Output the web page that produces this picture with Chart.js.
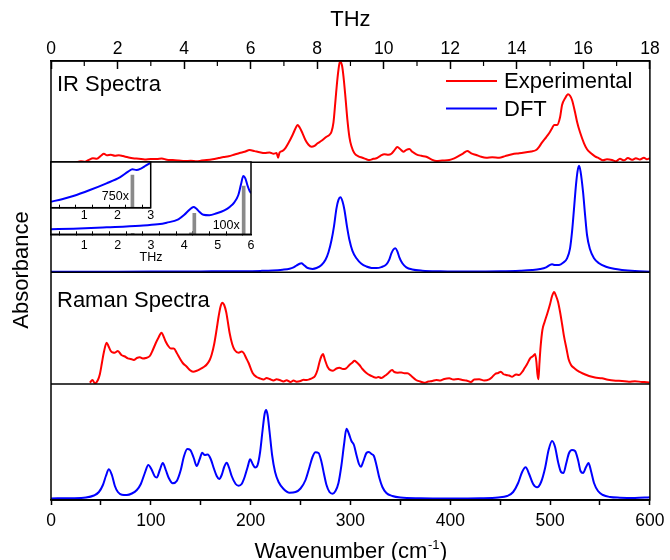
<!DOCTYPE html>
<html>
<head>
<meta charset="utf-8">
<title>IR and Raman spectra</title>
<script src="https://cdn.jsdelivr.net/npm/chart.js@4.4.0/dist/chart.umd.min.js"></script>
<style>
    html, body { margin: 0; padding: 0; background: #fff; }
    #wrap { position: relative; width: 670px; height: 560px; }
    #wrap > div { position: absolute; }
</style>
</head>
<body>
<div id="wrap">
    <div style="left:0;top:0;width:670px;height:560px"><canvas id="mainChart"></canvas></div>
    <div style="left:0;top:150px;width:262px;height:120px"><canvas id="inset100"></canvas></div>
    <div style="left:0;top:150px;width:162px;height:80px"><canvas id="inset750"></canvas></div>
</div>
<script>
// Spectra: [wavenumber (cm-1), absorbance (a.u.)]
const irExperimental = [
    [25,0],[30,1],[34,0.5],[38,2.5],[42,4],[46,3.5],[50,6.5],[53,8.5],[56,7],[60,7.5],[64,6.5],[68,7],
    [72,6.2],[77,5],[82,4],[88,3.5],[94,2.8],[100,3.4],[106,3.2],[111,3.8],[116,2.6],[122,2.3],[128,1.8],
    [134,1.2],[140,1.6],[146,1.0],[151,1.8],[156,2.2],[162,3],[168,4.2],[173,5.2],[178,6],[184,7.8],
    [189,9.3],[194,10.5],[199,12.3],[204,11.2],[209,10],[214,9.2],[219,9.8],[223,8.6],[226,9.2],[227.5,4.6],
    [229,9.8],[232,11.5],[235,14.5],[238,19.5],[242,27.3],[245,34],[247,37.3],[249,35],[252,29],[255,22],
    [258,17.5],[261,15.6],[264,16.5],[267,19],[271,21.5],[276,25.6],[279,27.5],[281,30.6],[283,40],[285,62],
    [287,84],[289,99],[290,100.5],[291.5,97],[293,86],[295,65],[297,42],[299,25],[301,16],[304,9],[308,6],
    [312,4.6],[316,3],[319,2.3],[323,3.5],[326,4],[330,6.5],[334,8],[338,7.5],[341,8.5],[344,12],[347,15.3],
    [350,13],[353,10.6],[356,12.5],[359,13.3],[362,10.5],[366,8],[371,6.5],[376,5.6],[381,3],[386,1.3],
    [392,1.8],[399,2.3],[404,4],[409,6.6],[413,9],[417,11.3],[421,9],[426,7.3],[431,5.5],[436,4.6],[442,5],
    [449,4.6],[455,6.2],[462,8],[469,9],[476,10],[481,10.8],[486,12.3],[489,15.5],[492,20],[496,25],[499,29],
    [502,34],[504,37.3],[507,37.3],[510,45],[512,57.3],[515,64],[518,68],[520,66.5],[522,62.3],[525,50],
    [527,40.6],[530,30],[534,19],[537,13],[541,9],[545,6],[549,4],[553,2],[557,3],[562,2.3],[566,1],[570,3.5],
    [574,2],[578,4.2],[582,2.5],[586,4],[590,2.8],[594,4.5],[597,3],[600,4]
];
const irDft = [
    [0,0.5],[50,0.6],[100,0.7],[150,0.9],[189,1.1],[210,1.4],[222,1.8],[232,2.6],[239,3.6],[243,5],[246,6.8],
    [249,8.6],[251,9],[253,7.6],[256,5],[259,3.8],[262,3.4],[266,4.3],[271,7.3],[275,12.5],[278,20],[281,32],
    [283.5,46],[286,64],[288,72.5],[290,75],[292,71],[294,62.3],[296.5,46],[299,32.3],[302,21.5],[306,14],
    [311,8.5],[316,5.8],[321,4.4],[326,4.2],[331,5.2],[336,8],[339,13],[341,19],[343,22.8],[345,24],[347,21],
    [349,15],[352,9],[356,5],[362,2.8],[372,1.6],[390,1],[422,0.7],[450,1],[470,1.6],[482,2.3],[490,3.3],
    [496,5],[500,7.5],[502,8],[505,7.2],[509,7.3],[513,9.5],[517,14],[520,24],[522,40.6],[524,64],[526,88],
    [527.5,101],[529,106.6],[530.5,101],[533,80.6],[535,58],[537,37.3],[540,23],[544,14],[549,9],[556,5.6],
    [564,3.5],[572,2.3],[585,1.2],[600,0.6]
];
const ramanExperimental = [
    [39,1.3],[41.5,4],[44,0.7],[47,4],[49,10],[51,21],[53,32],[55.7,41.3],[57.5,38],[59.7,33.3],[62,31.5],
    [64,31.3],[67,33],[70.5,29],[74,27.5],[77,25.7],[80,25],[83,24],[86,26],[89,26.7],[92,25.5],[95,26],
    [99,28],[102,34],[105,41],[107.5,46],[110.7,51.3],[113,47],[115,42.3],[117.5,38],[120,35.5],[123,35.5],
    [126,31],[129,25.7],[132,21],[136,17.3],[139,14],[142.3,12.3],[146,13.2],[149,14.7],[153,17],[156,19.5],
    [159,24],[161,29.5],[163.5,40],[166,55],[168,68],[170,78],[171.7,81.3],[173.5,79],[175.5,72],[177.5,60],
    [179,50.7],[181.5,40],[184,34],[188,31.3],[191,32.5],[193,31],[195.5,26],[198,21],[202,11],[206,7],
    [209,5.7],[213,4.5],[216,6],[219,5],[223,3.6],[226,4.8],[229,4],[233,2.5],[236,3.8],[240,2],[243,3.5],
    [246,2.3],[250,3],[253,4.2],[256,4],[259,4.7],[262,6],[264.5,8],[267,14],[269,22],[271,28],[272.5,30],
    [274.5,24],[277,17.3],[280,13.8],[282.5,13.3],[286,15.5],[289,16.3],[292.5,15],[295.7,15.7],[299,19],
    [302,21.5],[304,23.3],[306.5,21.5],[309,19],[312,15],[315.7,11.3],[320,8.5],[325.7,6.3],[328,7],[331,6],
    [335,8.5],[338,11],[341.7,14],[344,12],[347.3,11.3],[351,11.5],[354,10.7],[357,10.7],[361,8],[365.7,4],
    [370,2.5],[374,1.3],[378,2.5],[382,3],[386,4],[390,3.5],[394,5],[399,5.7],[403,4.5],[408,5],[412,4],
    [416,3.5],[420.7,2],[424,4.5],[429,4.7],[434,3.5],[439,4.7],[442,7],[445,10],[448,11],[450.7,12.3],
    [453,10],[456,9],[459,8.5],[462,7.3],[466,9.5],[469,9],[472,12],[474.5,16],[477,20],[480,25.7],[483,28],
    [485,30],[486.3,22],[487.3,10],[488.3,4.7],[489.3,20],[490.5,37.3],[492.3,54],[494.5,62],[497.3,70.7],
    [500,80],[502,88],[504,92],[506,88],[508,82],[510,72],[512,60],[514,47.3],[516.5,35],[518.5,25],[521,19],
    [524,16],[529,12.3],[534,10],[539,8],[545,6.5],[552,5.7],[558,4.2],[565.7,3.3],[572,3],[579,2.3],
    [585,2.8],[592,2],[597,1.8],[600,1.3]
];
const ramanDft = [
    [0,1.6],[20,1.8],[35,2.5],[43,4.5],[48,8],[52,15],[55,24],[58,30.7],[61,25],[64,14],[67,8],[71,5.3],
    [76,5],[81,6.5],[86,10],[90,16],[94,27],[97.5,35],[100.5,31],[104,23.5],[106,22.5],[109,30],[112,37],
    [115,30],[118,22],[122,16.7],[126,19],[130,30],[133,43],[136.5,51],[139.5,50],[143,42],[146,34],[149,41],
    [151.5,47.3],[154,45],[157,45.5],[160,41],[163,32],[166,24],[168.5,21],[171,25],[173.5,33],[176,37.3],
    [178.5,32],[181,24],[185,16],[188,14.3],[191,16],[194,23],[197,33],[199.5,40.7],[202,36],[204.5,32.5],
    [207,35],[209.5,48],[212,70],[214,86],[215.5,90],[217,85],[219,68],[221.5,45],[224.5,28],[228,18],
    [233,11],[239,7.3],[245,8],[250,11.5],[255,20],[259,33],[262,43],[265,47.7],[268,47],[271,38],[273.5,26],
    [276,15],[279,8],[282,6.3],[285,9],[288,17],[291,35],[293.5,55],[296,71.3],[298.5,66],[301,59],[303.5,55],
    [306,45],[308.5,36],[310.5,33.3],[313,39],[316,47],[318.5,48],[321,46],[323.5,44],[326,35],[329,22],
    [332,13],[336,7],[342,4],[350,2.5],[370,1.8],[400,1.6],[430,1.8],[448,2.5],[457,4],[463,8],[468,17],
    [472,28],[475.5,32.7],[479,26],[483,16],[487,12.7],[491,18],[495,32],[498.5,50],[502,59],[505,53],
    [508,38],[511,28],[513.5,27],[516,36],[519,47],[522,50],[525,49],[528,40],[530.5,29],[533,27],[536,33],
    [538.5,37],[541,29],[544,17],[548,9],[553,5],[560,3],[570,2.3],[585,2],[600,2.8]
];

// Low frequency DFT insets: [THz, magnified absorbance]
const inset750x = [[0,6],[0.33,8.5],[0.67,11.7],[1.17,17.7],[1.67,24.4],[2.07,30.4],[2.32,36],[2.45,38.4],
    [2.57,37.7],[2.72,39.4],[2.85,42],[3.0,45]];
const inset750xModes = [[2.45,32.7]];
const inset100x = [[0,5],[0.67,5.6],[1.67,7],[2.67,8.6],[3.2,10],[3.47,11.6],[3.82,15],[4.0,19.5],[4.12,23.5],
    [4.22,26.5],[4.28,27.3],[4.35,26],[4.45,22.5],[4.57,19.5],[4.75,19],[4.97,21],[5.2,24],[5.37,27.6],
    [5.5,32],[5.62,39.3],[5.7,50],[5.77,58.3],[5.83,56],[5.89,49.3],[5.95,44],[6.0,41]];
const inset100xModes = [[2.45,1],[4.2,1.5],[4.3,21],[5.78,48.3]];

// axis ranges (a.u.) of the four stacked panels, top to bottom
const panelIds = ['yIr', 'yIrDft', 'yRaman', 'yRamanDft'];
const panelRanges = [101.3, 110, 111.7, 116];
const legendItems = ['Experimental', 'DFT'];

const FONT = 'Arial, "Liberation Sans", sans-serif';
const RED = '#ff0000';
const BLUE = '#0000ff';
Chart.defaults.font.family = FONT;
Chart.defaults.color = '#000';
Chart.defaults.animation = false;

const toXY = pairs => pairs.map(p => ({ x: p[0], y: p[1] }));

function spectrum(pairs, axis, color) {
    return {
        data: toXY(pairs),
        yAxisID: axis,
        xAxisID: 'x',
        borderColor: color,
        borderWidth: 2,
        pointRadius: 0,
        cubicInterpolationMode: 'monotone'
    };
}

function panelAxis(i) {
    return {
        type: 'linear',
        position: 'left',
        stack: 'panels',
        stackWeight: panelRanges[i],
        weight: 4 - i,
        min: 0,
        max: panelRanges[i],
        ticks: { display: false },
        grid: { display: false },
        border: { display: false },
        afterFit: s => { s.width = 51; }
    };
}

// frame, panel dividers, minor THz ticks, labels and legend
const decorations = {
    id: 'decorations',
    afterDatasetsDraw(chart) {
        const { ctx, chartArea: a, scales } = chart;
        ctx.save();
        ctx.strokeStyle = '#000';
        ctx.lineWidth = 1.5;
        panelIds.forEach(id => {
            const y = scales[id].bottom;
            ctx.beginPath();
            ctx.moveTo(a.left, y);
            ctx.lineTo(a.right, y);
            ctx.stroke();
        });
        ctx.strokeRect(a.left, a.top, a.right - a.left, a.bottom - a.top);

        const thz = scales.xThz;
        ctx.lineWidth = 1.2;
        for (let t = 1; t < 18; t += 2) {
            const px = thz.getPixelForValue(t);
            ctx.beginPath();
            ctx.moveTo(px, a.top);
            ctx.lineTo(px, a.top + 5);
            ctx.stroke();
        }

        ctx.fillStyle = '#000';
        ctx.font = '22px ' + FONT;
        ctx.textAlign = 'left';
        ctx.textBaseline = 'middle';
        ctx.fillText('IR Spectra', a.left + 6, scales.yIr.top + 24);
        ctx.fillText('Raman Spectra', a.left + 6, scales.yRaman.top + 29);

        // legend
        const colors = [RED, BLUE];
        legendItems.forEach((name, i) => {
            const y = 81 + i * 27.5;
            ctx.strokeStyle = colors[i];
            ctx.lineWidth = 2;
            ctx.beginPath();
            ctx.moveTo(446, y);
            ctx.lineTo(497, y);
            ctx.stroke();
            ctx.fillText(name, 504, y + 1);
        });

        // y title
        ctx.save();
        ctx.translate(22, 270);
        ctx.rotate(-Math.PI / 2);
        ctx.textAlign = 'center';
        ctx.fillText('Absorbance', 0, 0);
        ctx.restore();

        // bottom title with superscript
        const cx = (a.left + a.right) / 2;
        const part1 = 'Wavenumber (cm', sup = '-1', part2 = ')';
        ctx.textBaseline = 'alphabetic';
        ctx.font = '22px ' + FONT;
        const w1 = ctx.measureText(part1).width;
        const w3 = ctx.measureText(part2).width;
        ctx.font = '13px ' + FONT;
        const w2 = ctx.measureText(sup).width;
        const x0 = cx - (w1 + w2 + w3) / 2;
        ctx.font = '22px ' + FONT;
        ctx.fillText(part1, x0, 558);
        ctx.fillText(part2, x0 + w1 + w2 + 1, 558);
        ctx.font = '13px ' + FONT;
        ctx.fillText(sup, x0 + w1 + 0.5, 549);
        ctx.restore();
    }
};

new Chart(document.getElementById('mainChart'), {
    type: 'line',
    data: {
        datasets: [
            spectrum(irExperimental, 'yIr', RED),
            spectrum(irDft, 'yIrDft', BLUE),
            spectrum(ramanExperimental, 'yRaman', RED),
            spectrum(ramanDft, 'yRamanDft', BLUE)
        ]
    },
    options: {
        responsive: true,
        maintainAspectRatio: false,
        layout: { padding: { left: 0, right: 18, top: 0, bottom: 0 } },
        plugins: { legend: { display: false }, tooltip: { enabled: false } },
        scales: {
            x: {
                type: 'linear',
                position: 'bottom',
                min: 0,
                max: 600,
                offset: false,
                ticks: {
                    stepSize: 50,
                    autoSkip: false,
                    maxRotation: 0,
                    padding: 5.5,
                    font: { size: 17.5 },
                    callback: v => (v % 100 === 0 ? v : '')
                },
                grid: { drawOnChartArea: false, tickLength: 5, tickColor: '#000', tickWidth: 1.5 },
                border: { color: '#000', width: 1.5 },
                afterFit: s => { s.height = 60; }
            },
            xThz: {
                type: 'linear',
                position: 'top',
                min: 0,
                max: 18,
                offset: false,
                ticks: { stepSize: 2, autoSkip: false, maxRotation: 0, padding: 9.7, font: { size: 17.5 } },
                grid: { drawOnChartArea: false, tickLength: -8, tickColor: '#000', tickWidth: 1.5 },
                border: { color: '#000', width: 1.5 },
                title: { display: true, text: 'THz', font: { size: 22 }, padding: { top: 7, bottom: 0 } },
                afterFit: s => { s.height = 61; }
            },
            yIr: panelAxis(0),
            yIrDft: panelAxis(1),
            yRaman: panelAxis(2),
            yRamanDft: panelAxis(3)
        }
    },
    plugins: [decorations]
});

// inset boxes: white background, frame and magnification label
const insetFrame = {
    id: 'insetFrame',
    beforeDraw(chart) {
        const { ctx, chartArea: a } = chart;
        ctx.save();
        ctx.fillStyle = '#fff';
        ctx.fillRect(a.left, a.top, a.right - a.left, a.bottom - a.top);
        ctx.restore();
    },
    afterDatasetsDraw(chart, args, opts) {
        const { ctx, chartArea: a, scales } = chart;
        ctx.save();
        ctx.strokeStyle = '#000';
        ctx.lineWidth = 1.5;
        ctx.strokeRect(a.left, a.top, a.right - a.left, a.bottom - a.top);
        ctx.fillStyle = '#000';
        ctx.font = '12.5px ' + FONT;
        ctx.textBaseline = 'middle';
        ctx.fillText(opts.text, scales.x.getPixelForValue(opts.at[0]), scales.y.getPixelForValue(opts.at[1]));
        ctx.restore();
    }
};

function insetChart(canvasId, curve, modes, maxThz, maxY, cfg) {
    return new Chart(document.getElementById(canvasId), {
        type: 'line',
        data: {
            datasets: [
                {
                    data: toXY(curve),
                    borderColor: BLUE,
                    borderWidth: 2,
                    pointRadius: 0,
                    cubicInterpolationMode: 'monotone',
                    order: 1
                },
                {
                    type: 'bar',
                    data: toXY(modes),
                    backgroundColor: '#8a8a8a',
                    barThickness: 3,
                    order: 2
                }
            ]
        },
        options: {
            responsive: true,
            maintainAspectRatio: false,
            layout: { padding: { left: 51, right: cfg.right, top: 12, bottom: 0 } },
            plugins: {
                legend: { display: false },
                tooltip: { enabled: false },
                insetFrame: { text: cfg.label, at: cfg.labelAt }
            },
            scales: {
                x: {
                    type: 'linear',
                    min: 0,
                    max: maxThz,
                    offset: false,
                    ticks: {
                        stepSize: 0.5,
                        autoSkip: false,
                        maxRotation: 0,
                        padding: cfg.tickPad,
                        font: { size: 12.5 },
                        callback: v => (Number.isInteger(v) && v > 0 ? v : '')
                    },
                    grid: { drawOnChartArea: false, tickLength: -3, tickColor: '#000', tickWidth: 1 },
                    border: { color: '#000', width: 1.5 },
                    title: {
                        display: cfg.title,
                        text: 'THz',
                        font: { size: 12.5 },
                        padding: { top: 0, bottom: 5 }
                    },
                    afterFit: s => { s.height = cfg.axisHeight; }
                },
                y: { display: false, min: 0, max: maxY }
            }
        },
        plugins: [insetFrame]
    });
}

insetChart('inset100', inset100x, inset100xModes, 6, 72.3,
    { right: 11, axisHeight: 35.7, tickPad: 6.5, title: true, label: '100x', labelAt: [4.85, 8.3] });
insetChart('inset750', inset750x, inset750xModes, 3, 45.7,
    { right: 11.3, axisHeight: 22.3, tickPad: 3.8, title: false, label: '750x', labelAt: [1.53, 11] });
</script>
</body>
</html>
